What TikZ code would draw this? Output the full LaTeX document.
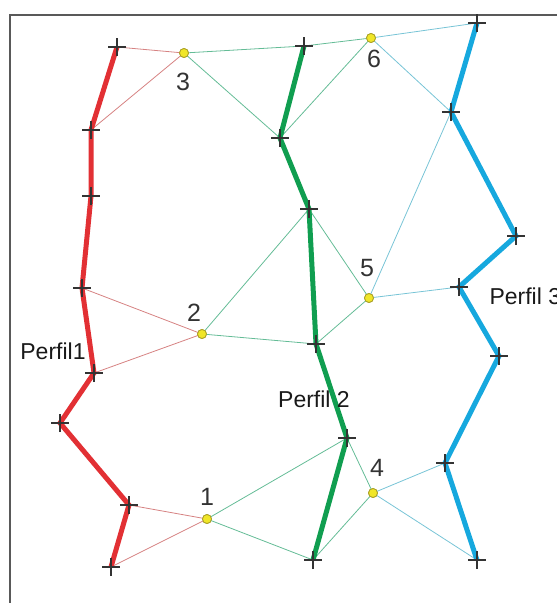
\documentclass[tikz,border=0pt]{standalone}
\usepackage{fontspec}
\setmainfont{Liberation Sans}
\begin{document}
\begin{tikzpicture}[x=1pt,y=-1pt,
  frame/.style={draw=black!65, line width=2pt},
  thinred/.style={draw={rgb,255:red,214;green,130;blue,130}, line width=0.8pt},
  thingreen/.style={draw={rgb,255:red,100;green,188;blue,150}, line width=0.8pt},
  thinblue/.style={draw={rgb,255:red,120;green,196;blue,214}, line width=0.8pt},
  thickred/.style={draw={rgb,255:red,226;green,48;blue,52}, line width=5pt, line join=miter},
  thickgreen/.style={draw={rgb,255:red,16;green,158;blue,80}, line width=5pt, line join=miter},
  thickblue/.style={draw={rgb,255:red,22;green,168;blue,222}, line width=5pt, line join=miter},
  crossmk/.style={draw=black!80, line width=1.5pt},
  dotmk/.style={circle, fill={rgb,255:red,240;green,230;blue,40}, draw={rgb,255:red,170;green,160;blue,40}, line width=0.8pt, minimum size=9pt, inner sep=0pt},
  numlbl/.style={font=\fontsize{25}{29}\selectfont, text=black!80},
  perflbl/.style={font=\fontsize{23}{27}\selectfont, text=black!90}
]
\useasboundingbox (0,0) rectangle (557,603);
\clip (0,0) rectangle (557,603);
% frame
\draw[frame] (10,610) -- (10,15) -- (570,15);
% points
\coordinate (R1) at (117,47);
\coordinate (R2) at (91,130);
\coordinate (R3) at (91,196);
\coordinate (R4) at (82,288);
\coordinate (R5) at (94,373);
\coordinate (R6) at (60,423);
\coordinate (R7) at (129,505);
\coordinate (R8) at (111,567);
\coordinate (G1) at (304,46);
\coordinate (G2) at (280,138);
\coordinate (G3) at (309,209);
\coordinate (G4) at (316,344);
\coordinate (G5) at (347,438);
\coordinate (G6) at (313,560);
\coordinate (B1) at (477,23);
\coordinate (B2) at (451,112);
\coordinate (B3) at (516,236);
\coordinate (B4) at (459,287);
\coordinate (B5) at (499,356);
\coordinate (B6) at (445,463);
\coordinate (B7) at (477,560);
\node[dotmk] (P1) at (207,519) {};
\node[dotmk] (P2) at (202,334) {};
\node[dotmk] (P3) at (184,53) {};
\node[dotmk] (P4) at (373,493) {};
\node[dotmk] (P5) at (369,298) {};
\node[dotmk] (P6) at (371,38) {};
% thin connectors
\draw[thinred] (P3.center) -- (R1) (P3.center) -- (R2)
  (P2.center) -- (R4) (P2.center) -- (R5)
  (P1.center) -- (R7) (P1.center) -- (R8);
\draw[thingreen] (P3.center) -- (G1) (P3.center) -- (G2)
  (P6.center) -- (G1) (P6.center) -- (G2)
  (P2.center) -- (G3) (P2.center) -- (G4)
  (P5.center) -- (G3) (P5.center) -- (G4)
  (P1.center) -- (G5) (P1.center) -- (G6)
  (P4.center) -- (G5) (P4.center) -- (G6);
\draw[thinblue] (P6.center) -- (B1) (P6.center) -- (B2)
  (P5.center) -- (B2) (P5.center) -- (B4)
  (P4.center) -- (B6) (P4.center) -- (B7);
% thick profiles
\draw[thickred] (R1) -- (R2) -- (R3) -- (R4) -- (R5) -- (R6) -- (R7) -- (R8);
\draw[thickgreen] (G1) -- (G2) -- (G3) -- (G4) -- (G5) -- (G6);
\draw[thickblue] (B1) -- (B2) -- (B3) -- (B4) -- (B5) -- (B6) -- (B7);
% crosses
\foreach \p in {R1,R2,R3,R4,R5,R6,R7,R8,G1,G2,G3,G4,G5,G6,B1,B2,B3,B4,B5,B6,B7}{
  \draw[crossmk] ([xshift=-9pt]\p) -- ([xshift=9pt]\p) ([yshift=-9pt]\p) -- ([yshift=9pt]\p);
}
% redraw dots on top
\foreach \p in {P1,P2,P3,P4,P5,P6}{
  \node[dotmk] at (\p) {};
}
% labels
\node[numlbl] (L3) at (183,82) {3};
\node[numlbl] (L2) at (194,313) {2};
\node[numlbl] (L1) at (207,497) {1};
\node[numlbl] (L6) at (374,59) {6};
\node[numlbl] (L5) at (367,268) {5};
\node[numlbl] (L4) at (377,468) {4};
\node[perflbl] (T1) at (53,351) {Perfil1};
\node[perflbl] (T2) at (314,399) {Perfil 2};
\node[perflbl, anchor=west] (T3) at (486,296) {Perfil 3};
\end{tikzpicture}
\end{document}
